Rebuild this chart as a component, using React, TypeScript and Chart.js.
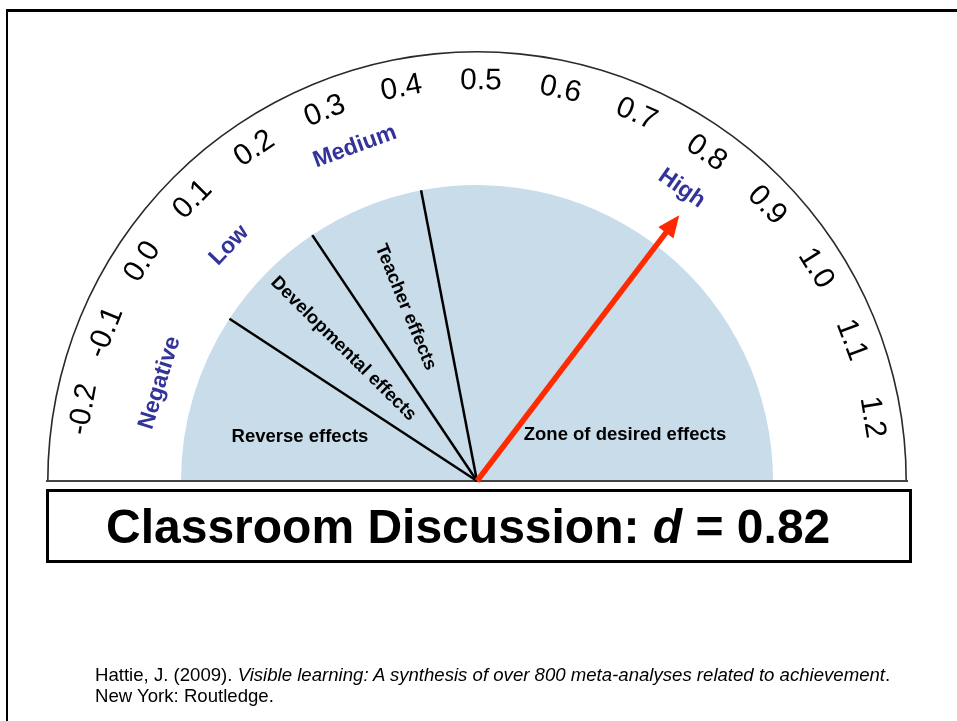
import React, { useEffect, useRef } from "react";
import { Chart, registerables } from "chart.js";

Chart.register(...registerables);

// ---- data ----
const SCALE_MIN = -0.29;
const SCALE_MAX = 1.28;
const TICK_VALUES = [-0.2, -0.1, 0.0, 0.1, 0.2, 0.3, 0.4, 0.5, 0.6, 0.7, 0.8, 0.9, 1.0, 1.1, 1.2];
const TICK_LABELS = ["-0.2", "-0.1", "0.0", "0.1", "0.2", "0.3", "0.4", "0.5", "0.6", "0.7", "0.8", "0.9", "1.0", "1.1", "1.2"];
const ZONE_NAMES = ["Reverse effects", "Developmental effects", "Teacher effects", "Zone of desired effects"];
const ZONE_BOUNDS = [0.0, 0.2, 0.4];
const BAND_NAMES = ["Negative", "Low", "Medium", "High"];
const BAND_VALUES = [-0.14, 0.09, 0.32, 0.8];
const EFFECT_NAME = "Classroom Discussion";
const EFFECT_SIZE = 0.82;

const FONT = '"Liberation Sans", Arial, Helvetica, sans-serif';
const ZONE_FILL = "#c9dcea";
const BAND_COLOR = "#333399";
const NEEDLE_COLOR = "#ff2a00";

const zoneEdges = [SCALE_MIN, ...ZONE_BOUNDS, SCALE_MAX];
const zoneWidths = ZONE_NAMES.map((_, i) => zoneEdges[i + 1] - zoneEdges[i]);

// layout radii for the band captions (presentation only)
const BAND_RADII = [332, 342, 356, 357];

const gaugePlugin = {
  id: "gaugeDecor",
  afterDatasetsDraw(chart: any) {
    const ctx: CanvasRenderingContext2D = chart.ctx;
    const zoneMeta = chart.getDatasetMeta(2);
    const ringMeta = chart.getDatasetMeta(0);
    const arcs: any[] = zoneMeta.data;
    const first = arcs[0];
    const last = arcs[arcs.length - 1];
    const cx = first.x;
    const cy = first.y;
    const a0 = first.startAngle;
    const a1 = last.endAngle;
    const zoneR = first.outerRadius;
    const R = ringMeta.data[0].outerRadius;
    const toAngle = (v: number) => a0 + ((v - SCALE_MIN) / (SCALE_MAX - SCALE_MIN)) * (a1 - a0);

    ctx.save();
    // baseline
    ctx.strokeStyle = "#444";
    ctx.lineWidth = 2;
    ctx.beginPath();
    ctx.moveTo(cx - R - 1, cy);
    ctx.lineTo(cx + R + 1, cy);
    ctx.stroke();

    // zone boundary lines
    ctx.strokeStyle = "#000";
    ctx.lineWidth = 2.5;
    for (let i = 1; i < arcs.length; i++) {
      const a = arcs[i].startAngle;
      ctx.beginPath();
      ctx.moveTo(cx, cy);
      ctx.lineTo(cx + zoneR * Math.cos(a), cy + zoneR * Math.sin(a));
      ctx.stroke();
    }

    // tick labels
    ctx.fillStyle = "#000";
    ctx.textAlign = "center";
    ctx.textBaseline = "middle";
    ctx.font = `30px ${FONT}`;
    TICK_VALUES.forEach((v, i) => {
      const a = toAngle(v);
      ctx.save();
      ctx.translate(cx + 400 * Math.cos(a), cy + 400 * Math.sin(a));
      ctx.rotate(a + Math.PI / 2);
      ctx.fillText(TICK_LABELS[i], 0, 0);
      ctx.restore();
    });

    // band labels
    ctx.fillStyle = BAND_COLOR;
    ctx.font = `bold 23px ${FONT}`;
    BAND_NAMES.forEach((name, i) => {
      const a = toAngle(BAND_VALUES[i]);
      const r = BAND_RADII[i];
      ctx.save();
      ctx.translate(cx + r * Math.cos(a), cy + r * Math.sin(a));
      ctx.rotate(a + Math.PI / 2);
      ctx.fillText(name, 0, 0);
      ctx.restore();
    });

    // zone labels
    ctx.fillStyle = "#000";
    ctx.font = `bold 18.5px ${FONT}`;
    [1, 2].forEach((i) => {
      const arc = arcs[i];
      const a = (arc.startAngle + arc.endAngle) / 2;
      ctx.save();
      ctx.translate(cx + 188 * Math.cos(a), cy + 188 * Math.sin(a));
      ctx.rotate(a + Math.PI);
      ctx.fillText(ZONE_NAMES[i], 0, 0);
      ctx.restore();
    });
    ctx.fillText(ZONE_NAMES[0], cx - 177, cy - 44);
    ctx.fillText(ZONE_NAMES[3], cx + 148, cy - 46);

    // needle
    const na = toAngle(EFFECT_SIZE);
    const tipR = 334;
    const headLen = 22;
    const headHalf = 9.5;
    const ux = Math.cos(na);
    const uy = Math.sin(na);
    ctx.strokeStyle = NEEDLE_COLOR;
    ctx.fillStyle = NEEDLE_COLOR;
    ctx.lineWidth = 5.5;
    ctx.beginPath();
    ctx.moveTo(cx, cy);
    ctx.lineTo(cx + (tipR - headLen + 2) * ux, cy + (tipR - headLen + 2) * uy);
    ctx.stroke();
    const bx = cx + (tipR - headLen) * ux;
    const by = cy + (tipR - headLen) * uy;
    ctx.beginPath();
    ctx.moveTo(cx + tipR * ux, cy + tipR * uy);
    ctx.lineTo(bx - headHalf * uy, by + headHalf * ux);
    ctx.lineTo(bx + headHalf * uy, by - headHalf * ux);
    ctx.closePath();
    ctx.fill();
    ctx.restore();
  },
};

export default function App() {
  const canvasRef = useRef<HTMLCanvasElement | null>(null);

  useEffect(() => {
    const canvas = canvasRef.current;
    if (!canvas) return;
    const range = SCALE_MAX - SCALE_MIN;
    const chart = new Chart(canvas, {
      type: "doughnut",
      data: {
        labels: ZONE_NAMES,
        datasets: [
          {
            label: "outline",
            data: [range],
            backgroundColor: ["#2a2a2a"],
            borderWidth: 0,
            hoverBorderWidth: 0,
            hoverOffset: 0,
            weight: 1.6,
          } as any,
          {
            label: "spacer",
            data: [range],
            backgroundColor: ["rgba(0,0,0,0)"],
            borderWidth: 0,
            hoverBorderWidth: 0,
            hoverOffset: 0,
            weight: 132.4,
          } as any,
          {
            label: "zones",
            data: zoneWidths,
            backgroundColor: ZONE_NAMES.map(() => ZONE_FILL),
            borderWidth: 0,
            hoverBorderWidth: 0,
            hoverOffset: 0,
            weight: 296,
          } as any,
        ],
      },
      options: {
        responsive: false,
        maintainAspectRatio: false,
        animation: false,
        events: [],
        rotation: -90,
        circumference: 180,
        cutout: 0,
        layout: { padding: { left: 47, right: 50, top: 51, bottom: 240 } },
        plugins: {
          legend: { display: false },
          tooltip: { enabled: false },
        },
      } as any,
      plugins: [gaugePlugin],
    });
    return () => chart.destroy();
  }, []);

  return (
    <div
      style={{
        position: "fixed",
        left: 0,
        top: 0,
        width: 957,
        height: 721,
        overflow: "hidden",
        background: "#fff",
        fontFamily: FONT,
      }}
    >
      <canvas
        ref={canvasRef}
        width={957}
        height={721}
        style={{ position: "absolute", left: 0, top: 0, width: 957, height: 721 }}
      />
      <div
        style={{
          position: "absolute",
          left: 6,
          top: 9,
          width: 1200,
          height: 1200,
          borderTop: "3px solid #000",
          borderLeft: "2.5px solid #000",
          boxSizing: "border-box",
          pointerEvents: "none",
        }}
      />
      <div
        style={{
          position: "absolute",
          left: 46,
          top: 489,
          width: 866,
          height: 74,
          border: "3px solid #000",
          boxSizing: "border-box",
          display: "flex",
          alignItems: "center",
          paddingLeft: 57,
          fontWeight: "bold",
          fontSize: 48,
          color: "#000",
          whiteSpace: "nowrap",
        }}
      >
        <span>
          {EFFECT_NAME}: <i>d</i> = {EFFECT_SIZE.toFixed(2)}
        </span>
      </div>
      <div
        style={{
          position: "absolute",
          left: 95,
          top: 664,
          fontSize: 18.6,
          lineHeight: "21px",
          color: "#000",
          whiteSpace: "nowrap",
        }}
      >
        <div>
          Hattie, J. (2009). <i>Visible learning: A synthesis of over 800 meta-analyses related to achievement</i>.
        </div>
        <div>New York: Routledge.</div>
      </div>
    </div>
  );
}
